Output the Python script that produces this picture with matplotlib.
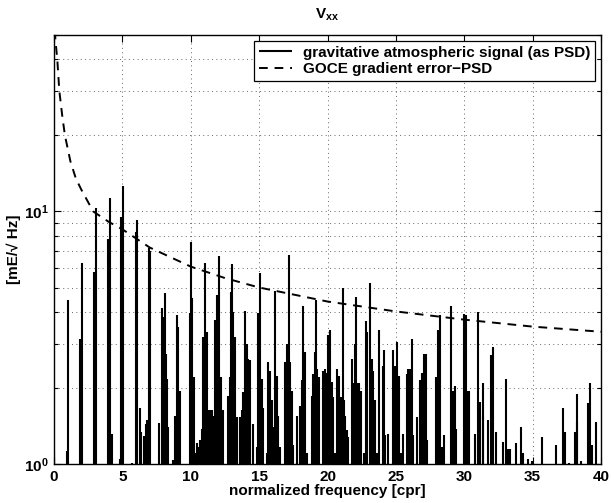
import math
import matplotlib
matplotlib.use("Agg")
import matplotlib.pyplot as plt
from matplotlib.ticker import FixedLocator, FuncFormatter, LogLocator, NullFormatter

plt.rcParams['font.family'] = ['Liberation Sans', 'DejaVu Sans']
plt.rcParams['font.weight'] = 'bold'
plt.rcParams['mathtext.fontset'] = 'custom'
plt.rcParams['mathtext.rm'] = 'Liberation Sans:bold'
plt.rcParams['mathtext.bf'] = 'Liberation Sans:bold'
plt.rcParams['mathtext.it'] = 'Liberation Sans:bold'

# ---- data ----
signal_freq = [
    0.00, 0.93, 1.05, 1.90, 2.07, 2.95, 3.07, 3.97, 4.07, 4.21, 4.85, 4.92, 5.04,
    5.70, 5.96, 6.10, 6.29, 6.36, 6.58, 6.73, 6.82, 6.92, 7.02, 7.70, 7.89, 7.99,
    8.09, 8.19, 8.28, 8.36, 8.72, 8.87, 8.97, 9.09, 9.21, 9.70, 9.92, 10.01, 10.11,
    10.21, 10.31, 10.43, 10.55, 10.67, 10.79, 10.92, 11.04, 11.16, 11.28, 11.40,
    11.52, 11.65, 11.77, 11.89, 12.06, 12.21, 12.33, 12.74, 12.87, 12.91, 13.04,
    13.11, 13.23, 13.35, 13.60, 13.72, 13.84, 13.96, 14.08, 14.20, 14.33, 14.57,
    14.81, 14.94, 15.08, 15.18, 15.30, 15.55, 15.67, 15.79, 15.91, 16.03, 16.15,
    16.28, 16.40, 16.52, 16.89, 17.01, 17.13, 17.15, 17.25, 17.37, 17.50, 17.74,
    17.98, 18.11, 18.23, 18.35, 18.47, 18.84, 18.96, 19.08, 19.15, 19.25, 19.40,
    19.69, 19.81, 19.93, 20.05, 20.18, 20.30, 20.42, 20.54, 20.71, 20.83, 20.96,
    21.10, 21.20, 21.27, 21.39, 21.52, 21.76, 21.88, 22.00, 22.08, 22.17, 22.30,
    22.42, 22.67, 22.81, 22.91, 23.10, 23.22, 23.34, 23.47, 23.59, 23.78, 24.03,
    24.12, 24.20, 24.44, 24.76, 24.93, 25.10, 25.20, 25.41, 25.54, 25.78, 25.90,
    26.02, 26.17, 26.27, 26.51, 26.76, 26.88, 27.07, 27.19, 27.29, 27.97, 28.09,
    28.22, 28.34, 28.54, 29.02, 29.15, 29.31, 29.43, 30.00, 30.12, 30.24, 30.36,
    30.78, 31.02, 31.14, 31.34, 31.38, 31.75, 31.99, 32.12, 32.31, 32.80, 33.04,
    33.21, 33.34, 33.77, 34.14, 34.26, 34.67, 34.92, 35.72, 36.70, 37.23, 37.35,
    37.67, 38.09, 38.21, 38.28, 38.57, 39.08, 39.23, 39.37, 39.62,
]
signal_psd = [
    1.13, 1.13, 4.46, 3.13, 6.27, 5.78, 10.3, 7.79, 11.3, 1.32, 1.05, 9.5, 12.6,
    1.01, 8.28, 9.27, 1.66, 1.34, 1.29, 1.44, 1.49, 7.16, 6.95, 1.45, 4.15, 3.83,
    4.74, 2.73, 2.18, 1.40, 1.04, 1.55, 3.89, 3.49, 1.94, 1.00, 3.97, 7.58, 4.53,
    2.21, 1.11, 1.21, 1.17, 1.24, 1.38, 3.18, 6.27, 3.33, 1.63, 1.63,
    1.63, 1.55, 3.72, 4.67, 6.67, 2.21, 1.63, 1.86, 2.21, 4.80, 6.20,
    4.01, 3.18, 1.53, 1.53, 1.63, 1.92, 4.02, 2.99, 2.61, 2.57, 1.44,
    1.17, 3.97, 5.73, 2.18, 1.66, 1.11, 2.53, 2.34, 1.79, 1.40, 4.83,
    2.24, 1.55, 1.17, 2.53, 2.99, 2.95, 6.73, 2.53, 1.94, 1.19, 1.55,
    1.69, 2.15, 4.23, 2.77, 1.11, 1.86, 2.27, 2.77, 4.46, 2.38, 2.21,
    2.34, 2.38, 2.30, 3.23, 3.38, 2.12, 1.84, 1.11, 2.38, 2.24, 1.84,
    5.00, 1.79, 1.55, 1.36, 1.28, 2.61, 2.09, 2.99, 4.60, 2.09, 2.09,
    1.94, 1.11, 3.67, 3.33, 5.20, 2.61, 2.34, 1.79, 1.11, 3.38, 2.45,
    2.83, 1.30, 1.32, 2.83, 2.45, 3.03, 2.24, 1.11, 1.32, 2.27, 2.38,
    2.38, 3.13, 1.30, 1.53, 2.15, 2.30, 2.73, 2.73, 1.24, 2.21, 3.38,
    3.89, 1.17, 1.30, 4.21, 1.94, 2.03, 1.38, 3.93, 3.89, 1.94, 1.94,
    1.32, 4.00, 1.76, 2.09, 1.55, 1.49, 2.69, 2.91, 1.34, 1.22, 2.18,
    1.15, 1.15, 1.21, 1.40, 1.11, 1.05, 1.03, 1.28, 1.19, 1.66, 1.34,
    1.01, 1.34, 1.46, 1.89, 1.03, 1.74, 2.09, 1.19, 1.46,
]

error_freq = [0.02, 0.10, 0.24, 0.39, 0.60, 0.80, 1.20, 1.60, 2.00, 2.87, 4.00,
              5.00, 7.00, 10.0, 12.5, 15.0, 20.0, 25.0, 30.0, 35.0, 40.0]
error_psd = [60.0, 48.0, 40.0, 30.0, 24.0, 20.0, 15.8, 13.5, 12.2, 10.0, 9.1,
             8.5, 7.2, 6.05, 5.45, 5.0, 4.4, 4.02, 3.73, 3.5, 3.34]

x_ticks = [0, 5, 10, 15, 20, 25, 30, 35, 40]

fig = plt.figure(figsize=(6.14, 5.03), dpi=100)
ax = fig.add_axes([54/614, 1-464/503, (601-54)/614, (464-35)/503])

ax.vlines(signal_freq, 0.5, signal_psd, colors='black', linewidth=1.5,
          label='gravitative atmospheric signal (as PSD)')
ax.plot(error_freq, error_psd, color='black', linestyle=(0, (4.5, 3.5)),
        linewidth=1.4, label='GOCE gradient error\u2212PSD')

ax.set_yscale('log')
ax.set_xlim(0, 40)
ax.set_ylim(1, 50)
ax.xaxis.set_major_locator(FixedLocator(x_ticks))
ax.yaxis.set_major_locator(LogLocator(base=10, numticks=5))
ax.yaxis.set_major_formatter(FuncFormatter(lambda v, p: r'$\mathbf{10^{%d}}$' % round(math.log10(v))))
ax.yaxis.set_minor_locator(LogLocator(base=10, subs=range(2, 10), numticks=20))
ax.yaxis.set_minor_formatter(NullFormatter())

ax.grid(True, which='major', axis='both', linestyle=(0, (1, 3.5)), color='#666666', linewidth=0.7)
ax.grid(True, which='minor', axis='y', linestyle=(0, (1, 3.5)), color='#666666', linewidth=0.7)
ax.tick_params(which='both', direction='in', top=True, right=True, labelsize=11, width=0.8)
ax.tick_params(which='major', length=5, pad=4)
ax.tick_params(which='minor', length=3)
for lab in ax.get_xticklabels():
    lab.set_fontweight('bold')
for sp in ax.spines.values():
    sp.set_linewidth(1.0)

ax.set_xlabel('normalized frequency [cpr]', fontsize=11, fontweight='bold', labelpad=0)
ax.set_ylabel('[mE/\u221a Hz]', fontsize=11, fontweight='bold', labelpad=2)
ax.set_title(r'V$_{\mathbf{xx}}$', fontsize=11, fontweight='bold', pad=12)

leg = ax.legend(loc='upper right', fontsize=11, frameon=True, fancybox=False,
                edgecolor='black', framealpha=1, borderpad=0.3, handlelength=2.2,
                handletextpad=0.7, labelspacing=0.15, borderaxespad=0.4)
leg.get_frame().set_linewidth(0.9)
for t in leg.get_texts():
    t.set_fontweight('bold')

fig.savefig('out.png', dpi=100)
